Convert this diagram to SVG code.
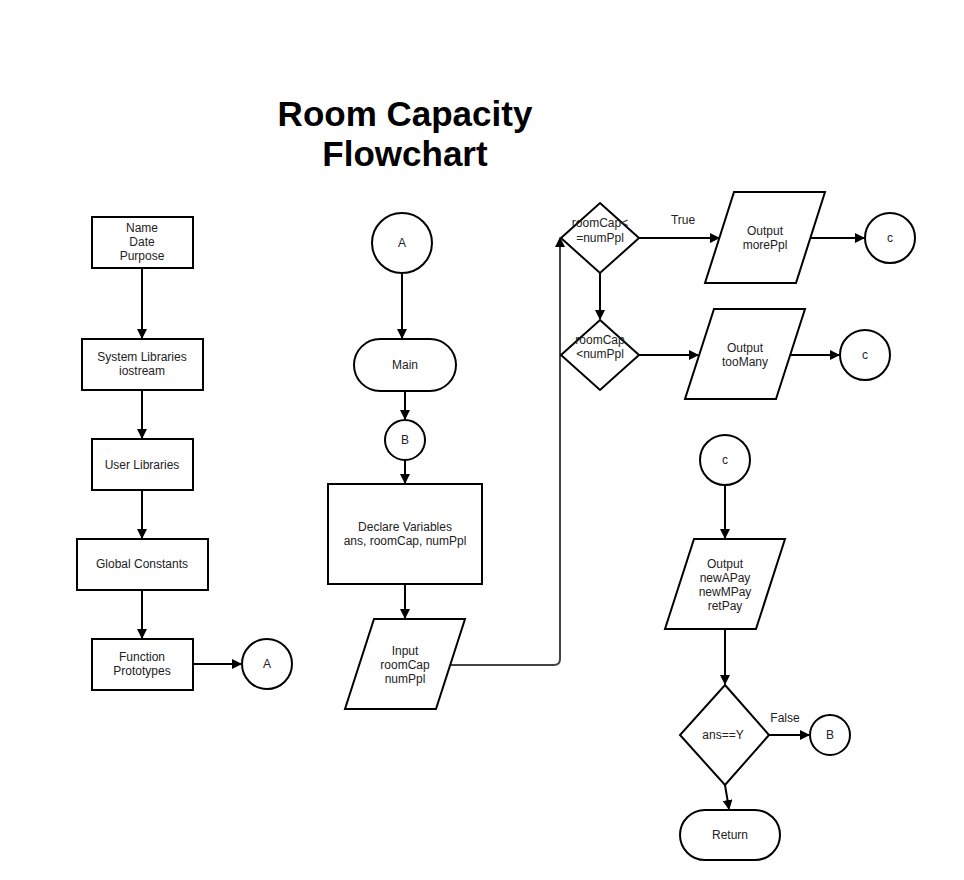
<svg xmlns="http://www.w3.org/2000/svg" width="964" height="880" viewBox="0 0 964 880">
<defs>
<style>
.s{fill:#fff;stroke:#000;stroke-width:2}
.c{fill:none;stroke:#000;stroke-width:2}
.t{font-family:"Liberation Sans",Arial,sans-serif;font-size:12px;fill:#222;text-anchor:middle}
.h{font-family:"Liberation Sans",Arial,sans-serif;font-size:35px;font-weight:bold;fill:#000;text-anchor:middle}
</style>
<marker id="ar" markerUnits="userSpaceOnUse" markerWidth="10" markerHeight="10" refX="9" refY="5" orient="auto">
<path d="M0,0 L10,5 L0,10 z" fill="#000"/>
</marker>
</defs>
<rect width="964" height="880" fill="#fff"/>
<g id="title">
<text class="h" x="405" y="126">Room Capacity</text>
<text class="h" x="405" y="166">Flowchart</text>
</g>
<g id="connectors">
<line class="c" x1="142" y1="268" x2="142" y2="338" marker-end="url(#ar)"/>
<line class="c" x1="142" y1="390" x2="142" y2="438" marker-end="url(#ar)"/>
<line class="c" x1="142" y1="490" x2="142" y2="538" marker-end="url(#ar)"/>
<line class="c" x1="142" y1="590" x2="142" y2="638" marker-end="url(#ar)"/>
<line class="c" x1="193" y1="664" x2="241" y2="664" marker-end="url(#ar)"/>
<line class="c" x1="402" y1="273" x2="402" y2="338" marker-end="url(#ar)"/>
<line class="c" x1="405" y1="391" x2="405" y2="419" marker-end="url(#ar)"/>
<line class="c" x1="405" y1="460" x2="405" y2="483" marker-end="url(#ar)"/>
<line class="c" x1="405" y1="584" x2="405" y2="618" marker-end="url(#ar)"/>
<path class="c" style="stroke:#444" d="M451,665 L554,665 Q560,665 560,659 L560,238" marker-end="url(#ar)"/>
<line class="c" x1="639" y1="238" x2="719" y2="238" marker-end="url(#ar)"/>
<line class="c" x1="810" y1="238" x2="864" y2="238" marker-end="url(#ar)"/>
<line class="c" x1="600" y1="273" x2="600" y2="319" marker-end="url(#ar)"/>
<line class="c" x1="639" y1="355" x2="698" y2="355" marker-end="url(#ar)"/>
<line class="c" x1="790" y1="355" x2="839" y2="355" marker-end="url(#ar)"/>
<line class="c" x1="725" y1="485" x2="725" y2="538" marker-end="url(#ar)"/>
<line class="c" x1="725" y1="629" x2="725" y2="684" marker-end="url(#ar)"/>
<line class="c" x1="769" y1="735" x2="809" y2="735" marker-end="url(#ar)"/>
<line class="c" x1="725" y1="785" x2="729" y2="809" marker-end="url(#ar)"/>
</g>
<g id="header">
<rect class="s" x="92" y="217" width="101" height="51"/>
<text class="t" x="142" y="232">Name</text>
<text class="t" x="142" y="246">Date</text>
<text class="t" x="142" y="260">Purpose</text>
</g>
<g id="syslib">
<rect class="s" x="82" y="339" width="121" height="51"/>
<text class="t" x="142" y="361">System Libraries</text>
<text class="t" x="142" y="375">iostream</text>
</g>
<g id="userlib">
<rect class="s" x="92" y="439" width="101" height="51"/>
<text class="t" x="142" y="469">User Libraries</text>
</g>
<g id="globals">
<rect class="s" x="77" y="539" width="131" height="51"/>
<text class="t" x="142" y="568">Global Constants</text>
</g>
<g id="protos">
<rect class="s" x="92" y="639" width="101" height="51"/>
<text class="t" x="142" y="661">Function</text>
<text class="t" x="142" y="675">Prototypes</text>
</g>
<g id="connA1">
<circle class="s" cx="267" cy="664" r="25"/>
<text class="t" x="267" y="668">A</text>
</g>
<g id="connA2">
<circle class="s" cx="402" cy="243" r="30"/>
<text class="t" x="402" y="247">A</text>
</g>
<g id="main">
<rect class="s" x="354" y="339" width="102" height="52" rx="26" ry="26"/>
<text class="t" x="405" y="369">Main</text>
</g>
<g id="connB1">
<circle class="s" cx="405" cy="440" r="20"/>
<text class="t" x="405" y="444">B</text>
</g>
<g id="declare">
<rect class="s" x="328" y="484" width="154" height="100"/>
<text class="t" x="405" y="531">Declare Variables</text>
<text class="t" x="405" y="545">ans, roomCap, numPpl</text>
</g>
<g id="input">
<polygon class="s" points="374,619 465,619 436,709 345,709"/>
<text class="t" x="405" y="655">Input</text>
<text class="t" x="405" y="669">roomCap</text>
<text class="t" x="405" y="683">numPpl</text>
</g>
<g id="dec1">
<polygon class="s" points="600,203 639,238 600,273 561,238"/>
<text class="t" x="600" y="227">roomCap&lt;</text>
<text class="t" x="600" y="242">=numPpl</text>
<text class="t" x="683" y="224">True</text>
</g>
<g id="outMore">
<polygon class="s" points="734,192 825,192 796,283 705,283"/>
<text class="t" x="765" y="235">Output</text>
<text class="t" x="765" y="249">morePpl</text>
</g>
<g id="connC1">
<circle class="s" cx="890" cy="238" r="25"/>
<text class="t" x="890" y="242">c</text>
</g>
<g id="dec2">
<polygon class="s" points="600,320 639,355 600,390 561,355"/>
<text class="t" x="600" y="344">roomCap</text>
<text class="t" x="600" y="358">&lt;numPpl</text>
</g>
<g id="outMany">
<polygon class="s" points="714,309 805,309 776,399 685,399"/>
<text class="t" x="745" y="352">Output</text>
<text class="t" x="745" y="366">tooMany</text>
</g>
<g id="connC2">
<circle class="s" cx="865" cy="355" r="25"/>
<text class="t" x="865" y="359">c</text>
</g>
<g id="connC3">
<circle class="s" cx="725" cy="460" r="25"/>
<text class="t" x="725" y="464">c</text>
</g>
<g id="outPay">
<polygon class="s" points="694,539 785,539 756,629 665,629"/>
<text class="t" x="725" y="568">Output</text>
<text class="t" x="725" y="582">newAPay</text>
<text class="t" x="725" y="596">newMPay</text>
<text class="t" x="725" y="610">retPay</text>
</g>
<g id="dec3">
<polygon class="s" points="725,685 769,735 725,785 680,735"/>
<text class="t" x="723" y="739">ans==Y</text>
<text class="t" x="785" y="722">False</text>
</g>
<g id="connB2">
<circle class="s" cx="830" cy="735" r="20"/>
<text class="t" x="830" y="739">B</text>
</g>
<g id="ret">
<rect class="s" x="680" y="810" width="100" height="50" rx="25" ry="25"/>
<text class="t" x="730" y="839">Return</text>
</g>
</svg>
